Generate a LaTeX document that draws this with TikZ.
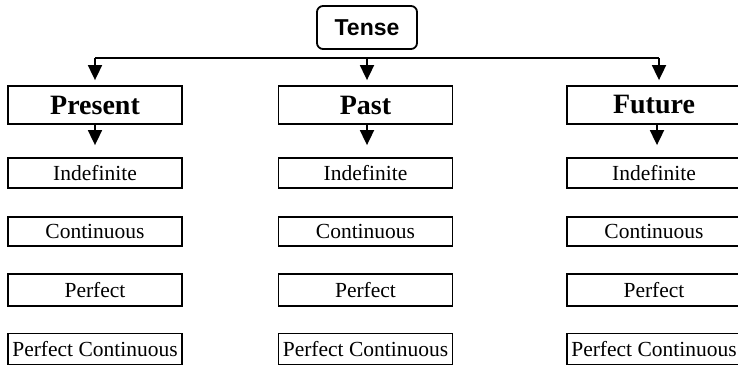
\documentclass[tikz,border=0pt]{standalone}
\usepackage{fontspec}
\setmainfont{Liberation Serif}
\newfontfamily\tensefont{Liberation Sans}
\usetikzlibrary{arrows.meta}
\tikzset{
  box/.style={draw=black, line width=1.8pt, inner sep=0pt, anchor=center},
  head/.style={box, minimum width=174pt, minimum height=38pt, font=\fontsize{28}{30}\selectfont\bfseries},
  sub/.style={box, minimum width=174pt, font=\fontsize{21.5}{24}\selectfont},
  topbox/.style={box, rounded corners=6pt, minimum width=100pt, minimum height=43pt, font=\tensefont\fontsize{23}{25}\selectfont\bfseries},
  arr/.style={line width=1.8pt, -{Triangle[width=14pt,length=15pt]}},
  ln/.style={line width=1.8pt}
}
\begin{document}
\begin{tikzpicture}[x=1pt,y=-1pt]
\useasboundingbox (0,0) rectangle (738,364);
\fill[white] (0,0) rectangle (738,364);
\node[topbox] (tense) at (367,27.5) {Tense};
\node[head] (pres) at (95,105) {Present};
\node[head] (past) at (365.5,105) {Past};
\node[head] (fut) at (654,105) {Future};
\foreach \c/\x in {p/95, q/365.5, f/654}{
  \node[sub, minimum height=30pt] (\c1) at (\x,173) {Indefinite};
  \node[sub, minimum height=29pt] (\c2) at (\x,231.5) {Continuous};
  \node[sub, minimum height=32pt] (\c3) at (\x,290) {Perfect};
  \node[sub, minimum height=31pt] (\c4) at (\x,349) {Perfect Continuous};
}
\coordinate (barL) at (95,58);
\coordinate (barM) at (367,58);
\coordinate (barR) at (659,58);
\draw[ln] (barL) -- (barR);
\draw[arr, shorten >=5pt] (barL) -- (barL |- pres.north);
\draw[arr, shorten >=5pt] (barM) -- (barM |- past.north);
\draw[arr, shorten >=5pt] (barR) -- (barR |- fut.north);
\draw[arr, shorten >=12pt] (pres.south) -- (p1.north);
\draw[arr, shorten >=12pt] ([xshift=1.5pt]past.south) -- ([xshift=1.5pt]q1.north);
\draw[arr, shorten >=12pt] ([xshift=3pt]fut.south) -- ([xshift=3pt]f1.north);
\end{tikzpicture}
\end{document}
